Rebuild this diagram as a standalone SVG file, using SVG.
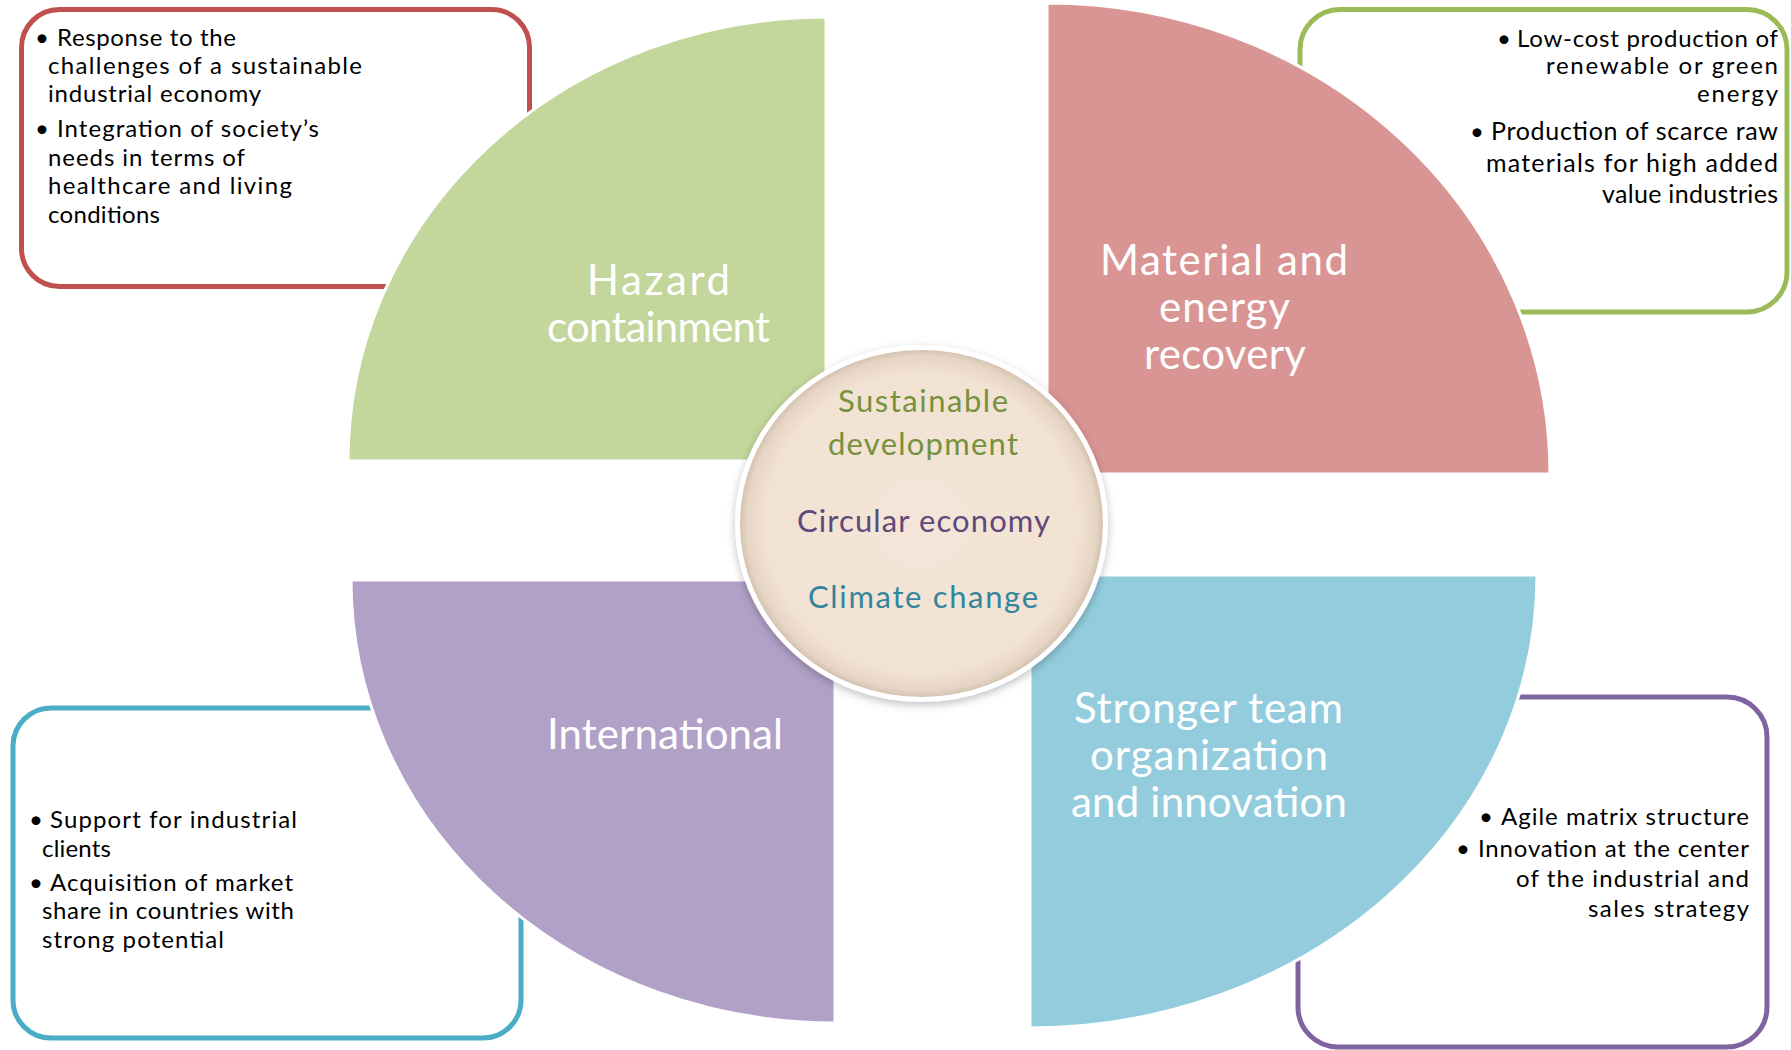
<svg xmlns="http://www.w3.org/2000/svg" width="1791" height="1050" viewBox="0 0 1791 1050">
<style>
  .box { fill: #FFFFFF; stroke-width: 5; }
  .btxt { font-family: Lato, "Open Sans", sans-serif; font-size: 24px; fill: #000000; }
  .qlab { font-family: Lato, "Open Sans", sans-serif; font-size: 42px; fill: #FFFFFF; }
  .ctxt { font-family: Lato, "Open Sans", sans-serif; font-size: 31px; }
  .quarter { stroke: #FFFFFF; stroke-width: 3; }
</style>
<defs>
  <radialGradient id="cgrad" cx="50%" cy="50%" r="50%">
    <stop offset="0" stop-color="#F3E5D8"/>
    <stop offset="0.85" stop-color="#F2E2D3"/>
    <stop offset="0.95" stop-color="#E6D5C5"/>
    <stop offset="1" stop-color="#CDBBAA"/>
  </radialGradient>
  <filter id="shadow" x="-10%" y="-10%" width="120%" height="125%">
    <feDropShadow dx="0" dy="3" stdDeviation="4" flood-color="#000000" flood-opacity="0.25"/>
  </filter>
</defs>
<rect width="1791" height="1050" fill="#FFFFFF"/>

<g id="box-hazard">
  <rect class="box" x="21.5" y="9.5" width="508" height="277" rx="38" ry="38" stroke="#C0504D"/>
  <text class="btxt" x="35" y="46">•</text>
  <text class="btxt" x="57" y="46" textLength="179" lengthAdjust="spacing">Response to the</text>
  <text class="btxt" x="48" y="74" textLength="314" lengthAdjust="spacing">challenges of a sustainable</text>
  <text class="btxt" x="48" y="102" textLength="213" lengthAdjust="spacing">industrial economy</text>
  <text class="btxt" x="35" y="137">•</text>
  <text class="btxt" x="57" y="137" textLength="262" lengthAdjust="spacing">Integration of society’s</text>
  <text class="btxt" x="48" y="166" textLength="197" lengthAdjust="spacing">needs in terms of</text>
  <text class="btxt" x="48" y="194" textLength="244" lengthAdjust="spacing">healthcare and living</text>
  <text class="btxt" x="48" y="223" textLength="112" lengthAdjust="spacing">conditions</text>
</g>

<g id="box-material">
  <rect class="box" x="1300" y="9.5" width="487" height="302.5" rx="40" ry="40" stroke="#9BBB59"/>
  <text class="btxt" x="1497" y="47">•</text>
  <text class="btxt" x="1517" y="47" textLength="261" lengthAdjust="spacing">Low-cost production of</text>
  <text class="btxt" x="1546" y="74" textLength="232" lengthAdjust="spacing">renewable or green</text>
  <text class="btxt" x="1697" y="102" textLength="81" lengthAdjust="spacing">energy</text>
  <text class="btxt" x="1470" y="140">•</text>
  <text class="btxt" style="font-size:25px" x="1491" y="140" textLength="287" lengthAdjust="spacing">Production of scarce raw</text>
  <text class="btxt" style="font-size:25px" x="1486" y="172" textLength="292" lengthAdjust="spacing">materials for high added</text>
  <text class="btxt" style="font-size:25px" x="1602" y="203" textLength="176" lengthAdjust="spacing">value industries</text>
</g>

<g id="box-international">
  <rect class="box" x="13" y="708" width="508" height="330" rx="38" ry="38" stroke="#4BACC6"/>
  <text class="btxt" x="29" y="828">•</text>
  <text class="btxt" x="50" y="828" textLength="247" lengthAdjust="spacing">Support for industrial</text>
  <text class="btxt" x="42" y="857" textLength="69" lengthAdjust="spacing">clients</text>
  <text class="btxt" x="29" y="891">•</text>
  <text class="btxt" x="50" y="891" textLength="243" lengthAdjust="spacing">Acquisition of market</text>
  <text class="btxt" x="42" y="919" textLength="252" lengthAdjust="spacing">share in countries with</text>
  <text class="btxt" x="42" y="948" textLength="182" lengthAdjust="spacing">strong potential</text>
</g>

<g id="box-team">
  <rect class="box" x="1298" y="697" width="469" height="350" rx="40" ry="40" stroke="#8064A2"/>
  <text class="btxt" x="1479" y="825">•</text>
  <text class="btxt" x="1501" y="825" textLength="248" lengthAdjust="spacing">Agile matrix structure</text>
  <text class="btxt" x="1456" y="857">•</text>
  <text class="btxt" x="1478" y="857" textLength="271" lengthAdjust="spacing">Innovation at the center</text>
  <text class="btxt" x="1516" y="887" textLength="233" lengthAdjust="spacing">of the industrial and</text>
  <text class="btxt" x="1588" y="917" textLength="161" lengthAdjust="spacing">sales strategy</text>
</g>

<g id="quarter-hazard">
  <path class="quarter" d="M826,461 L348,461 A478,444 0 0,1 826,17 Z" fill="#C3D69B"/>
  <text class="qlab" x="587" y="295" textLength="143" lengthAdjust="spacing">Hazard</text>
  <text class="qlab" x="547" y="342" textLength="223" lengthAdjust="spacing">containment</text>
</g>

<g id="quarter-material">
  <path class="quarter" d="M1047,474 L1047,3 A503,471 0 0,1 1550,474 Z" fill="#D99594"/>
  <text class="qlab" x="1100" y="275" textLength="248" lengthAdjust="spacing">Material and</text>
  <text class="qlab" x="1159" y="322" textLength="131" lengthAdjust="spacing">energy</text>
  <text class="qlab" x="1144" y="369" textLength="162" lengthAdjust="spacing">recovery</text>
</g>

<g id="quarter-international">
  <path class="quarter" d="M835,580 L351,580 A484,443 0 0,0 835,1023 Z" fill="#B2A1C7"/>
  <text class="qlab" x="547" y="749" textLength="236" lengthAdjust="spacing">International</text>
</g>

<g id="quarter-team">
  <path class="quarter" d="M1030,575 L1537,575 A507,453 0 0,1 1030,1028 Z" fill="#93CDDD"/>
  <text class="qlab" x="1074" y="723" textLength="269" lengthAdjust="spacing">Stronger team</text>
  <text class="qlab" x="1090" y="770" textLength="238" lengthAdjust="spacing">organization</text>
  <text class="qlab" x="1071" y="817" textLength="276" lengthAdjust="spacing">and innovation</text>
</g>

<g id="center">
  <ellipse cx="921.5" cy="523.5" rx="184" ry="176" fill="url(#cgrad)" stroke="#FFFFFF" stroke-width="5" filter="url(#shadow)"/>
  <text class="ctxt" fill="#76923C" x="838" y="412" textLength="170" lengthAdjust="spacing">Sustainable</text>
  <text class="ctxt" fill="#76923C" x="828" y="455" textLength="190" lengthAdjust="spacing">development</text>
  <text class="ctxt" fill="#5F497A" x="797" y="532" textLength="253" lengthAdjust="spacing">Circular economy</text>
  <text class="ctxt" fill="#31859C" x="808" y="608" textLength="230" lengthAdjust="spacing">Climate change</text>
</g>
</svg>
